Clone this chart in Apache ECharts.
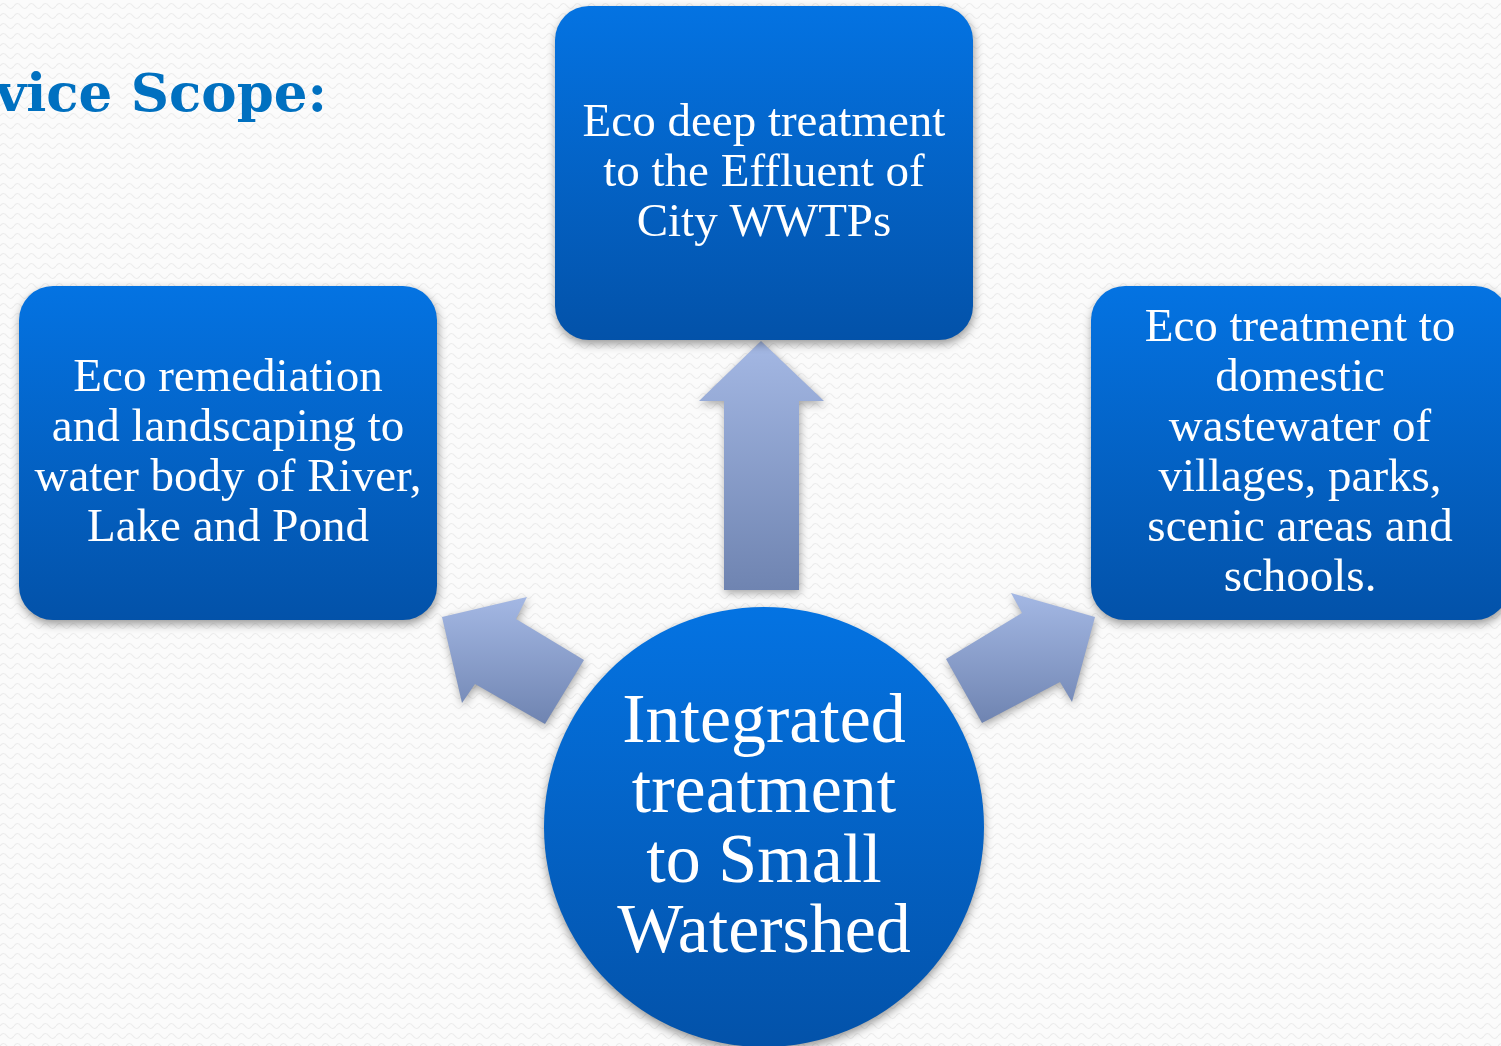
<!DOCTYPE html>
<html>
<head>
<meta charset="utf-8">
<script src="https://cdn.jsdelivr.net/npm/echarts@6/dist/echarts.min.js"></script>
<style>html,body{margin:0;padding:0;}#c{width:1501px;height:1046px;}</style>
</head>
<body>
<div id="c"></div>
<script>
// ---- content ----
const titleText = 'Service Scope:';
const centerLabels = ['Integrated\ntreatment\nto Small\nWatershed'];
const serviceLabels = [
  'Eco remediation\nand landscaping to\nwater body of River,\nLake and Pond',
  'Eco deep treatment\nto the Effluent of\nCity WWTPs',
  'Eco treatment to\ndomestic\nwastewater of\nvillages, parks,\nscenic areas and\nschools.'
];
const arrowIds = ['toLeft', 'toTop', 'toRight'];

// ---- layout (diagram space, same units as the hidden axes) ----
const layout = {
  boxes: [
    { x: 19, y: 286, w: 418, h: 334 },
    { x: 555, y: 6, w: 418, h: 334 },
    { x: 1091, y: 286, w: 418, h: 334 }
  ],
  circle: { cx: 764, cy: 827, r: 220 },
  arrows: [
    [[442,617],[527,597],[516,619],[584,660],[545,724],[475,684],[462,703]],
    [[761,341],[824,401],[799,401],[799,590],[724,590],[724,401],[699,401]],
    [[946,659],[1022,613],[1011,593],[1095,617],[1072,702],[1060,682],[982,723]]
  ]
};

const FONT = '"Liberation Serif", "DejaVu Serif", serif';
const blueGrad = () => new echarts.graphic.LinearGradient(0, 0, 0, 1, [
  { offset: 0, color: '#0473e2' }, { offset: 1, color: '#0352a9' }
]);
const arrowGrad = () => new echarts.graphic.LinearGradient(0, 0, 0, 1, [
  { offset: 0, color: '#a4b8e4' }, { offset: 1, color: '#6f84b1' }
]);

// background texture
function makePattern() {
  const c = document.createElement('canvas');
  c.width = 14; c.height = 10;
  const g = c.getContext('2d');
  g.fillStyle = '#fbfbfb'; g.fillRect(0, 0, 14, 10);
  g.strokeStyle = '#ebebeb'; g.lineWidth = 1.2;
  g.beginPath();
  g.moveTo(0, 6); g.quadraticCurveTo(3.5, 1, 7, 6); g.quadraticCurveTo(10.5, 11, 14, 6);
  g.stroke();
  return c;
}

const chart = echarts.init(document.getElementById('c'), null, { renderer: 'canvas' });

function pt(api, p) { return api.coord(p); }

chart.setOption({
  backgroundColor: { image: makePattern(), repeat: 'repeat' },
  animation: false,
  grid: { left: 0, right: 0, top: 0, bottom: 0 },
  xAxis: { type: 'value', min: 0, max: 1501, show: false },
  yAxis: { type: 'value', min: 0, max: 1046, inverse: true, show: false },
  graphic: [{
    type: 'text', x: 327, y: 97,
    style: { text: titleText, align: 'right', verticalAlign: 'middle',
      fill: '#0070c0', font: 'bold 53px "DejaVu Serif", serif' }
  }],
  series: [
    {
      type: 'custom', name: 'arrows', silent: true, clip: false,
      data: arrowIds.map((id, i) => ({ name: id, value: [i] })),
      renderItem: function (params, api) {
        const poly = layout.arrows[params.dataIndex].map(p => pt(api, p));
        return {
          type: 'polygon', shape: { points: poly },
          style: { fill: arrowGrad(), shadowBlur: 8, shadowColor: 'rgba(0,0,0,0.35)', shadowOffsetY: 3, shadowOffsetX: 1 }
        };
      }
    },
    {
      type: 'custom', name: 'services', silent: true, clip: false,
      data: serviceLabels.map((t, i) => ({ name: t, value: [i] })),
      renderItem: function (params, api) {
        const b = layout.boxes[params.dataIndex];
        const p0 = pt(api, [b.x, b.y]);
        const p1 = pt(api, [b.x + b.w, b.y + b.h]);
        return {
          type: 'group',
          children: [{
            type: 'rect',
            shape: { x: p0[0], y: p0[1], width: p1[0] - p0[0], height: p1[1] - p0[1], r: 34 },
            style: { fill: blueGrad(), shadowBlur: 10, shadowColor: 'rgba(0,0,0,0.4)', shadowOffsetY: 4, shadowOffsetX: 1 }
          }, {
            type: 'text',
            x: (p0[0] + p1[0]) / 2, y: (p0[1] + p1[1]) / 2 + 1,
            style: { text: serviceLabels[params.dataIndex], align: 'center', verticalAlign: 'middle',
              fill: '#ffffff', font: '47px ' + FONT, lineHeight: 50 }
          }]
        };
      }
    },
    {
      type: 'custom', name: 'center', silent: true, clip: false,
      data: centerLabels.map((t, i) => ({ name: t, value: [i] })),
      renderItem: function (params, api) {
        const c = layout.circle;
        const cc = pt(api, [c.cx, c.cy]);
        const e = pt(api, [c.cx + c.r, c.cy]);
        const r = e[0] - cc[0];
        return {
          type: 'group',
          children: [{
            type: 'circle', shape: { cx: cc[0], cy: cc[1], r: r },
            style: { fill: blueGrad(), shadowBlur: 10, shadowColor: 'rgba(0,0,0,0.4)', shadowOffsetY: 4 }
          }, {
            type: 'text', x: cc[0], y: cc[1] + 2,
            style: { text: centerLabels[params.dataIndex], align: 'center', verticalAlign: 'middle',
              fill: '#ffffff', font: '70px ' + FONT, lineHeight: 70 }
          }]
        };
      }
    }
  ]
});
</script>
</body>
</html>
